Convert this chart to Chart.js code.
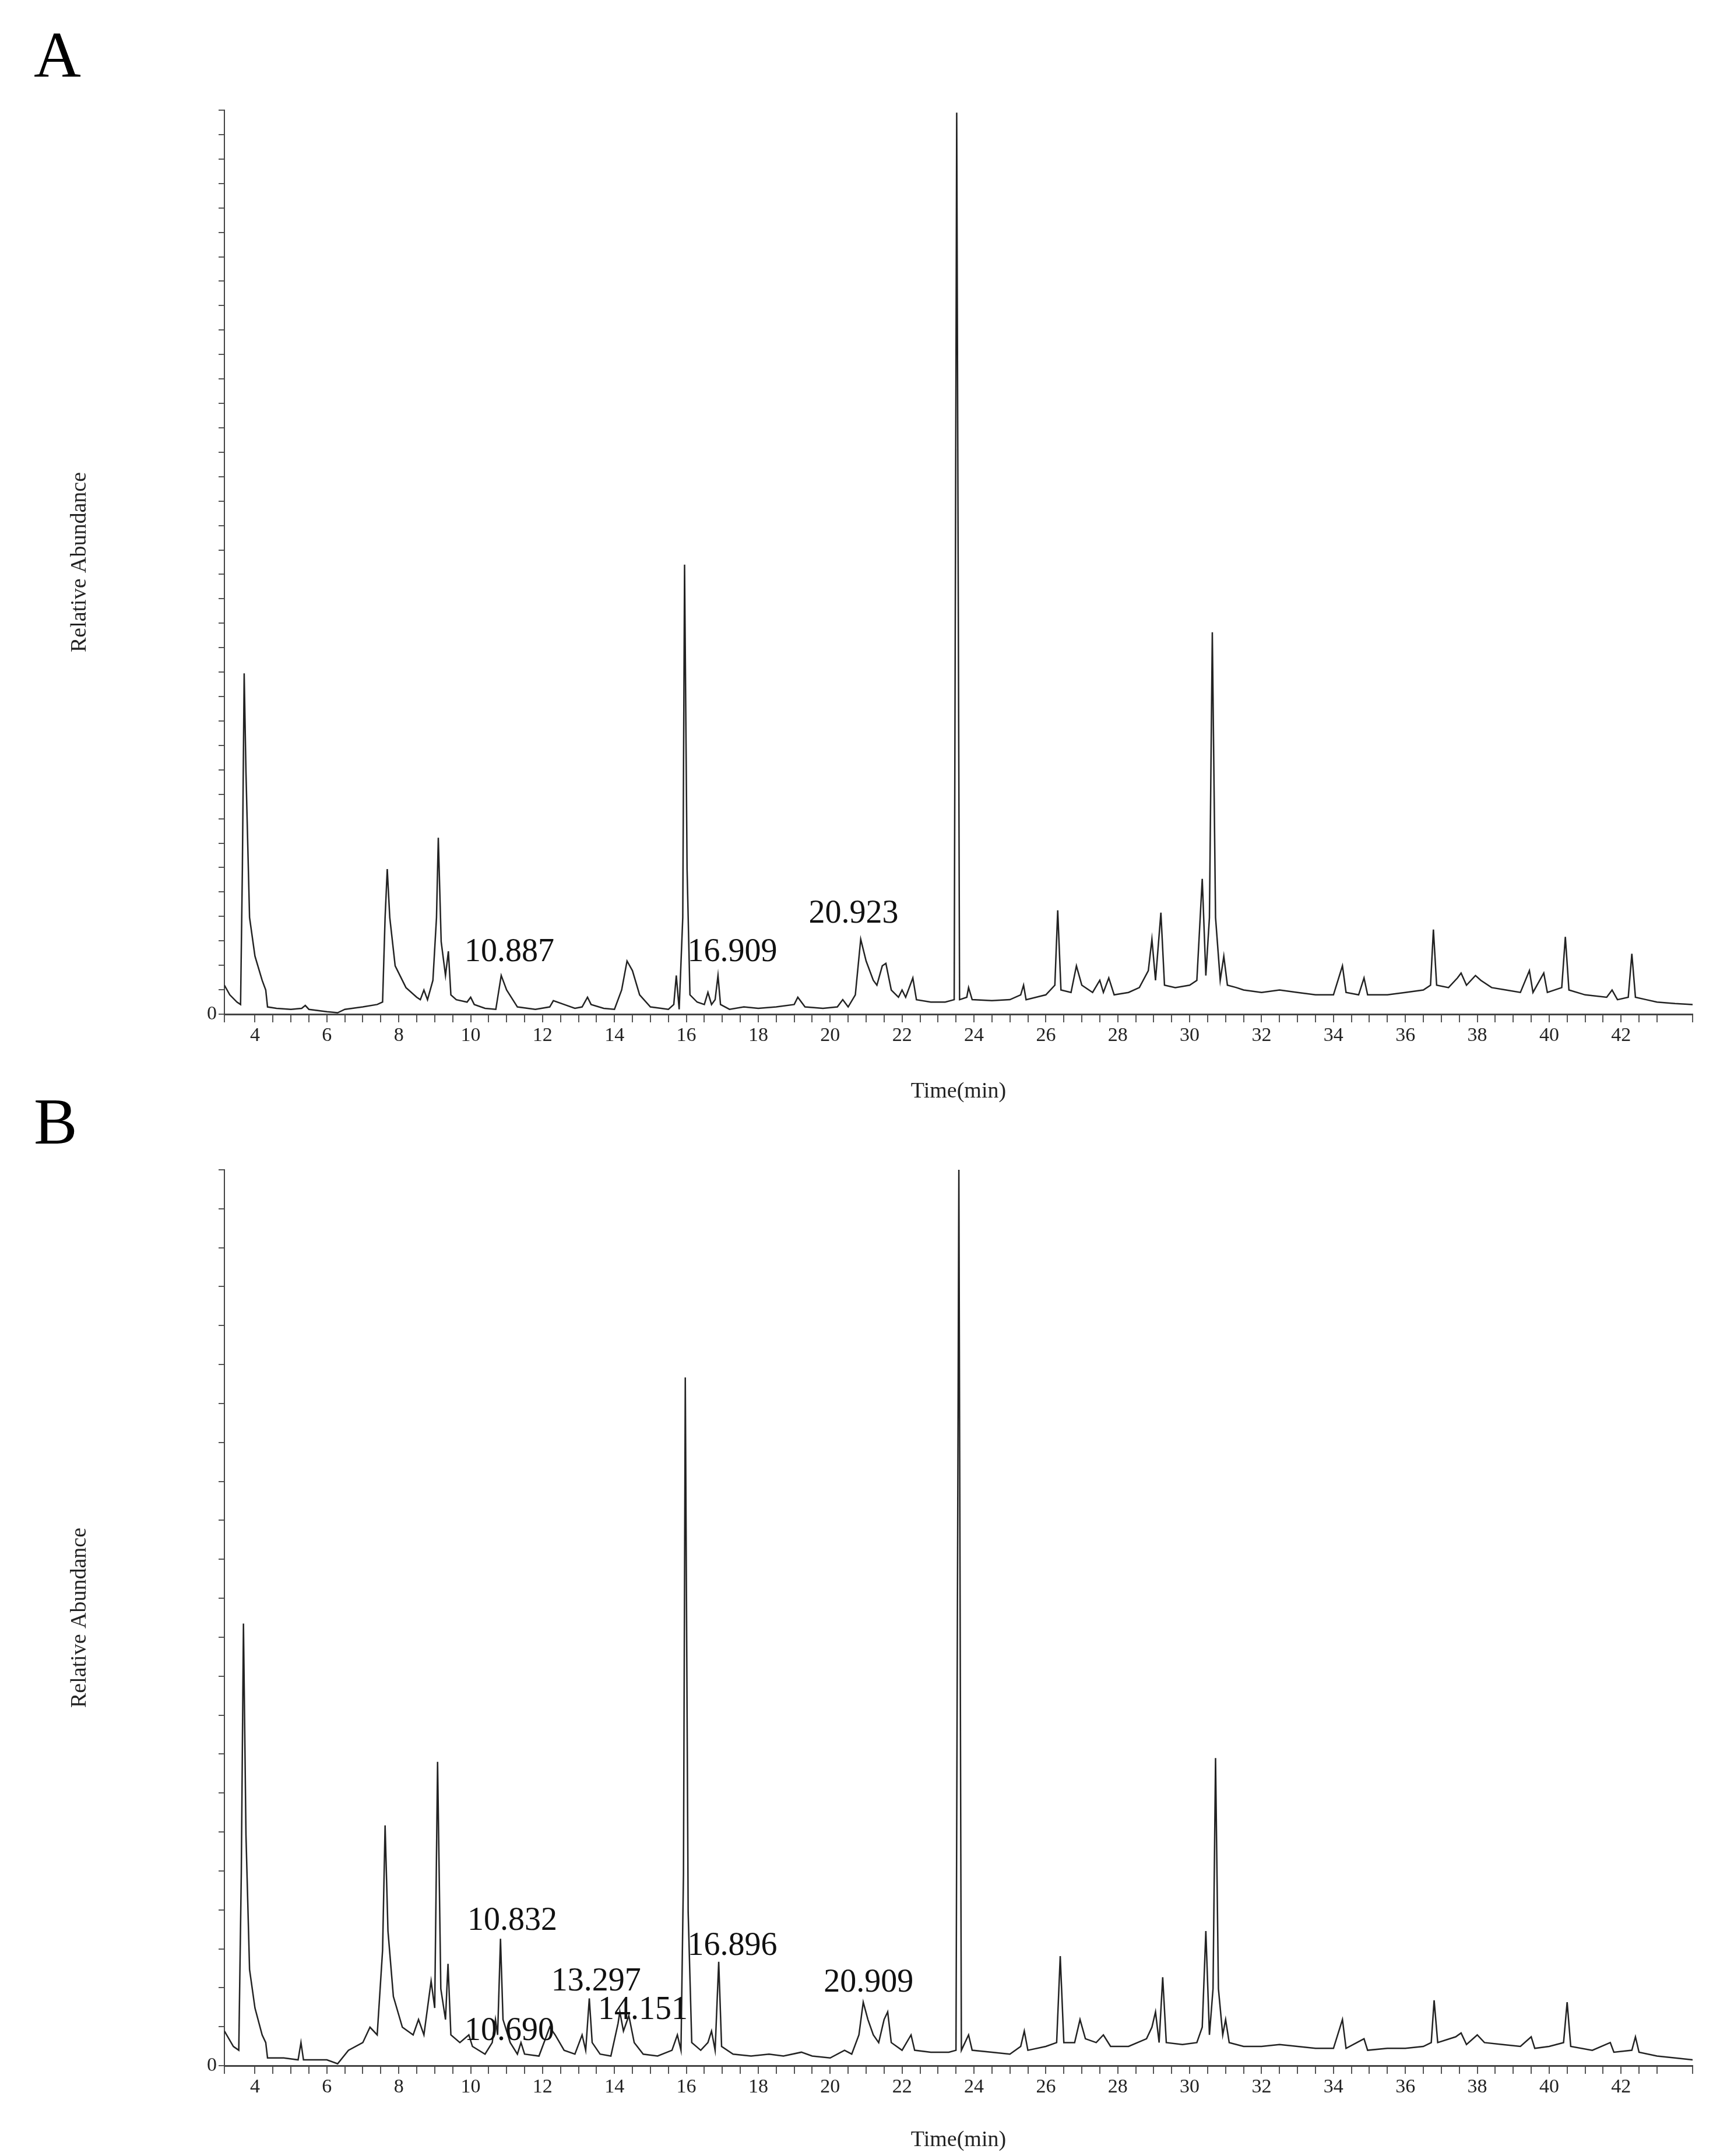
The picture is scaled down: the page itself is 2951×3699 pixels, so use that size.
<!DOCTYPE html>
<html><head><meta charset="utf-8">
<script src="https://cdn.jsdelivr.net/npm/chart.js@4"></script>
<style>
body{margin:0;background:#fff;width:2951px;height:3699px;position:relative;overflow:hidden;font-family:"Liberation Serif",serif}
.lab{position:absolute;font-size:112px;left:58px}
.cw{position:absolute;left:0;width:2951px}
</style></head><body>
<div class="lab" style="top:30px">A</div>
<div class="lab" style="top:1860px">B</div>
<div class="cw" style="top:150px;height:1750px"><canvas id="ca"></canvas></div>
<div class="cw" style="top:1960px;height:1739px"><canvas id="cb"></canvas></div>
<script>
// Panel A: time (min), abundance (thousands)
const timeA=[3.15,3.3,3.5,3.6,3.65,3.7,3.75,3.85,4.0,4.2,4.3,4.35,4.6,5.0,5.3,5.4,5.5,6.0,6.3,6.5,7.0,7.4,7.55,7.62,7.68,7.75,7.9,8.2,8.5,8.6,8.7,8.8,8.95,9.05,9.1,9.18,9.3,9.38,9.45,9.6,9.9,10.0,10.1,10.4,10.7,10.85,11.0,11.3,11.8,12.2,12.3,12.6,12.9,13.1,13.25,13.35,13.7,14.0,14.2,14.35,14.5,14.7,15.0,15.3,15.5,15.65,15.72,15.8,15.9,15.95,16.02,16.1,16.3,16.5,16.6,16.7,16.8,16.88,16.95,17.2,17.6,18.0,18.5,19.0,19.1,19.3,19.8,20.2,20.35,20.5,20.7,20.85,21.0,21.2,21.3,21.45,21.55,21.7,21.9,22.0,22.1,22.3,22.4,22.8,23.2,23.45,23.52,23.6,23.8,23.85,23.95,24.5,25.0,25.3,25.38,25.45,26.0,26.25,26.33,26.42,26.7,26.85,27.0,27.3,27.5,27.6,27.75,27.9,28.3,28.6,28.85,28.95,29.05,29.2,29.3,29.6,30.0,30.2,30.35,30.45,30.55,30.63,30.72,30.85,30.95,31.05,31.3,31.5,32.0,32.5,33.0,33.5,34.0,34.25,34.35,34.7,34.85,34.95,35.5,36.0,36.5,36.7,36.78,36.87,37.2,37.45,37.55,37.7,37.95,38.1,38.4,38.8,39.2,39.45,39.55,39.85,39.95,40.35,40.45,40.55,41.0,41.6,41.75,41.9,42.2,42.3,42.4,42.7,43.0,43.5,44.0];
const abundA=[60,40,25,20,300,705,500,200,120,70,50,15,12,10,12,18,10,5,3,10,15,20,25,200,300,200,100,55,35,30,50,30,70,200,365,150,80,130,40,30,25,35,20,12,10,80,50,15,10,15,28,20,12,15,35,20,12,10,50,110,90,40,15,12,10,20,80,10,200,930,300,40,25,20,45,20,30,80,20,10,15,12,15,20,35,15,12,15,30,15,40,155,110,70,60,100,105,50,35,50,35,75,30,25,25,30,1865,30,35,55,30,28,30,40,60,30,40,60,215,50,45,100,60,45,70,45,75,40,45,55,90,155,70,210,60,55,60,70,280,80,200,790,200,70,120,60,55,50,45,50,45,40,40,100,45,40,75,40,40,45,50,60,175,60,55,75,85,60,80,70,55,50,45,90,45,85,45,55,160,50,40,35,50,30,35,125,35,30,25,22,20];
// Panel B
const timeB=[3.15,3.4,3.55,3.62,3.68,3.75,3.85,4.0,4.2,4.3,4.35,4.8,5.2,5.28,5.35,5.8,6.0,6.3,6.6,7.0,7.2,7.4,7.55,7.62,7.7,7.85,8.1,8.4,8.55,8.7,8.9,9.0,9.08,9.17,9.3,9.37,9.45,9.7,9.95,10.05,10.4,10.6,10.69,10.75,10.83,10.9,11.1,11.3,11.4,11.5,11.9,12.2,12.35,12.6,12.9,13.1,13.2,13.3,13.38,13.6,13.9,14.1,14.15,14.25,14.4,14.55,14.8,15.2,15.6,15.75,15.85,15.92,15.97,16.05,16.15,16.4,16.6,16.7,16.8,16.9,16.98,17.3,17.8,18.3,18.7,19.2,19.5,20.0,20.4,20.6,20.8,20.92,21.05,21.2,21.35,21.5,21.6,21.7,22.0,22.25,22.35,22.8,23.3,23.5,23.58,23.65,23.85,23.95,24.5,25.0,25.3,25.4,25.5,26.0,26.3,26.4,26.5,26.8,26.95,27.1,27.4,27.6,27.8,28.3,28.8,28.95,29.05,29.15,29.25,29.35,29.8,30.2,30.35,30.45,30.55,30.65,30.72,30.8,30.92,31.0,31.1,31.5,32.0,32.5,33.0,33.5,34.0,34.25,34.35,34.85,34.95,35.5,36.0,36.5,36.72,36.8,36.9,37.4,37.55,37.7,38.0,38.2,38.7,39.2,39.5,39.6,40.0,40.4,40.5,40.6,41.2,41.7,41.8,42.3,42.4,42.5,43.0,43.5,44.0];
const abundB=[90,50,40,500,1150,600,250,150,80,60,20,20,15,60,15,15,15,5,40,60,100,80,300,625,350,180,100,80,120,80,220,150,790,200,120,265,80,60,80,50,30,60,120,80,330,120,60,30,60,30,25,100,80,40,30,80,40,175,60,30,25,110,140,90,130,60,30,25,40,80,40,500,1790,400,60,40,60,90,40,270,50,30,25,30,25,35,25,20,40,30,80,165,120,80,60,120,140,60,40,80,40,35,35,40,2330,40,80,40,35,30,50,90,40,50,60,285,60,60,120,70,60,80,50,50,70,100,140,60,230,60,55,60,100,350,80,200,800,200,80,120,60,50,50,55,50,45,45,120,45,70,40,45,45,50,60,170,60,75,85,55,80,60,55,50,75,45,50,60,165,50,40,60,35,40,75,35,25,20,15];
const labelsA=[["10.887",11.08,128],["16.909",17.28,128],["20.923",20.65,207]];
const labelsB=[["10.832",11.16,376],["10.690",11.08,89],["13.297",13.49,218],["14.151",14.79,143],["16.896",17.28,311],["20.909",21.07,215]];

const FONT="'Liberation Serif', serif";
const pk=(lbls)=>({id:'pk',afterDatasetsDraw(c){const x=c.scales.x,y=c.scales.y,ctx=c.ctx;ctx.save();ctx.font="56px "+FONT;ctx.fillStyle="#111";ctx.textAlign="center";ctx.textBaseline="middle";lbls.forEach(l=>ctx.fillText(l[0],x.getPixelForValue(l[1]),y.getPixelForValue(l[2]*1000)));ctx.restore();}});
function make(id,t,v,ymax,ystep,lbls,padTop,xh){
  new Chart(document.getElementById(id),{type:'line',
    data:{datasets:[{data:t.map((x,i)=>({x:x,y:v[i]*1000})),borderColor:'#222',borderWidth:2.5,pointRadius:0,tension:0}]},
    options:{responsive:true,maintainAspectRatio:false,animation:false,
      layout:{padding:{left:110,right:47,top:padTop,bottom:0}},
      plugins:{legend:{display:false},tooltip:{enabled:false}},
      scales:{
        x:{type:'linear',min:3.15,max:43.99,afterFit:s=>{s.height=xh},grid:{display:true,drawOnChartArea:false,tickLength:14,color:'#555',lineWidth:2},border:{color:'#444',width:3},
          ticks:{stepSize:0.5,autoSkip:false,maxRotation:0,color:'#222',font:{family:FONT,size:34},callback:v=>{const r=Math.round(v);return (Math.abs(v-r)<1e-6&&r%2===0)?String(r):'';}},
          title:{display:true,text:'Time(min)',color:'#222',font:{family:FONT,size:38},padding:{top:4}}},
        y:{min:0,max:ymax,afterFit:s=>{s.width=275},grid:{display:true,drawOnChartArea:false,tickLength:10,color:'#555',lineWidth:2},border:{color:'#444',width:2},
          ticks:{stepSize:ystep/2,autoSkip:false,color:'#222',font:{family:FONT,size:34},callback:v=>{const r=Math.round(v/1000)*1000;return (r%ystep===0)?r.toLocaleString('en-US'):'';}},
          title:{display:true,text:'Relative Abundance',color:'#222',font:{family:FONT,size:38},padding:{bottom:20}}}
      }},plugins:[pk(lbls)]});
}
make('ca',timeA,abundA,1870000,100000,labelsA,39,160);
make('cb',timeB,abundB,2330000,200000,labelsB,47,155);
</script></body></html>
